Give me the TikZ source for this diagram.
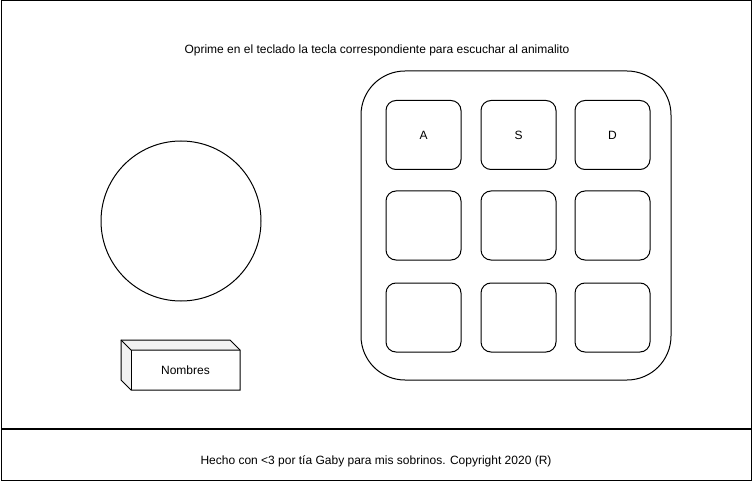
\documentclass[tikz,border=0pt]{standalone}
\usepackage{fontspec}
\setmainfont{Liberation Sans}
\begin{document}
\begin{tikzpicture}[x=1pt,y=-1pt,line width=1pt,
  every node/.style={font=\fontsize{12}{14}\selectfont},
  panel/.style={draw,rectangle,inner sep=0pt,anchor=north west},
  keybox/.style={draw,rectangle,rounded corners=10pt,minimum width=75pt,minimum height=69pt,inner sep=0pt},
  label/.style={inner sep=0pt}]
\useasboundingbox (0,0) rectangle (752,481);
% page frame: main area and footer strip
\node[panel,minimum width=750pt,minimum height=427pt] (main) at (0.5,0.5) {};
\node[panel,minimum width=750pt,minimum height=51pt] (footer) at (0.5,429) {};
% instruction line
\node[label] (title) at (377,50) {Oprime en el teclado la tecla correspondiente para escuchar al animalito};
% picture circle
\node[draw,circle,minimum size=160pt,inner sep=0pt] (pic) at (181,221) {};
% name box drawn as a cube
\fill[gray!10] (121,340) -- (230,340) -- (240,350) -- (131,350) -- cycle;
\fill[gray!10] (121,340) -- (131,350) -- (131,390) -- (121,380) -- cycle;
\draw (121,340) -- (230,340) -- (240,350) -- (240,390) -- (131,390) -- (121,380) -- cycle;
\draw (121,340) -- (131,350) -- (240,350);
\draw (131,350) -- (131,390);
\node[label] (names) at (185.5,370) {Nombres};
% keypad
\node[draw,rectangle,rounded corners=44pt,minimum width=310pt,minimum height=309pt,inner sep=0pt] (pad) at (516,225.5) {};
\node[keybox] (ka) at (423.5,135) {A};
\node[keybox] (ks) at (518.5,135) {S};
\node[keybox] (kd) at (612.5,135) {D};
\node[keybox] (k4) at (423.5,225.5) {};
\node[keybox] (k5) at (518.5,225.5) {};
\node[keybox] (k6) at (612.5,225.5) {};
\node[keybox] (k7) at (423.5,317.5) {};
\node[keybox] (k8) at (518.5,317.5) {};
\node[keybox] (k9) at (612.5,317.5) {};
% footer text
\node[label] (credit) at (376,461) {Hecho con <3 por tía Gaby para mis sobrinos. Copyright 2020 (R)};
\end{tikzpicture}
\end{document}
